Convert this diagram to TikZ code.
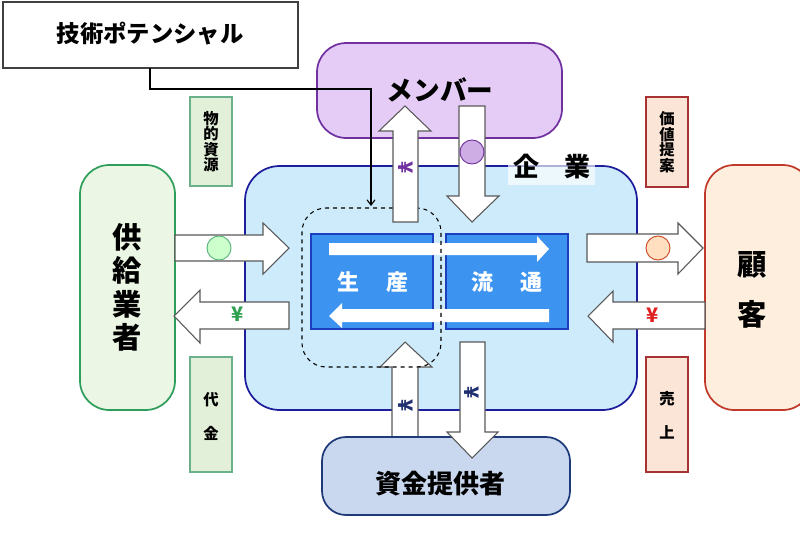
\documentclass[tikz,border=0pt]{standalone}
\usepackage{fontspec}
\setmainfont{Noto Sans CJK JP}
\usepackage{graphicx}
\usetikzlibrary{arrows.meta,fit}
\definecolor{purpfill}{HTML}{E5CCF6}
\definecolor{purpline}{HTML}{7030A0}
\definecolor{kfill}{HTML}{CDEBFA}
\definecolor{kline}{HTML}{1E1E9C}
\definecolor{sfill}{HTML}{EBF6E4}
\definecolor{sline}{HTML}{2E9E5B}
\definecolor{cfill}{HTML}{FDEEDD}
\definecolor{cline}{HTML}{C0392B}
\definecolor{ifill}{HTML}{CAD8EF}
\definecolor{iline}{HTML}{1F3A78}
\definecolor{rfill}{HTML}{3C94F0}
\definecolor{rline}{HTML}{1C3FC0}
\definecolor{gl}{HTML}{E2F0D9}
\definecolor{glline}{HTML}{6AB08A}
\definecolor{pl}{HTML}{FBE5D6}
\definecolor{plline}{HTML}{A83232}
\definecolor{arrline}{HTML}{595959}
\definecolor{yengreen}{HTML}{2EA04F}
\definecolor{yenred}{HTML}{E02020}
\definecolor{yennavy}{HTML}{1F2F6F}
\tikzset{
  bigbox/.style={draw, line width=1.3pt, rounded corners=22pt, inner sep=0pt},
  lblbox/.style={draw, line width=0.8pt, inner sep=0pt},
  blockarrow/.style={draw=arrline, fill=white, line width=0.8pt, line join=miter},
  innerarrow/.style={fill=white, draw=none},
  bigtxt/.style={font=\bfseries\fontsize{22}{25}\selectfont, align=center},
  smalltxt/.style={font=\bfseries\fontsize{11.5}{11.6}\selectfont, align=center},
  coin/.style={line width=0.7pt},
  yen/.style={font=\bfseries\fontsize{15}{15}\selectfont}
}
\newcommand{\ryen}{\rotatebox{-90}{¥}}
\begin{document}
\begin{tikzpicture}[x=0.75pt,y=-0.75pt]
\useasboundingbox (0,0) rectangle (800,533);
% company
\node[bigbox, draw=kline, fill=kfill, rounded corners=26pt, fit={(245,166) (637,410)}] (comp) {};
\fill[white, opacity=0.65] (508,150) rectangle (595,185);
\node[font=\bfseries\fontsize{19.5}{19.5}\selectfont] (complbl) at (552,167) {企\hspace{0.95em}業};
% supplier, customer
\node[bigbox, draw=sline, fill=sfill, fit={(80,165) (175,410)}] (sup) {};
\node[bigtxt] at (sup.center) {供\\給\\業\\者};
\node[bigbox, draw=cline, fill=cfill, fit={(705,165) (812,410)}] (cust) {};
\node[bigtxt, font=\bfseries\fontsize{22}{38}\selectfont] at (752,290) {顧\\客};
% member
\node[bigbox, draw=purpline, fill=purpfill, fit={(317,43) (562,138)}] (mem) {};
\node[font=\bfseries\fontsize{20}{20}\selectfont] at (440,90) {メンバー};
% inner rects
\node[draw=rline, fill=rfill, line width=1pt, inner sep=0pt, fit={(311,234) (433,329)}] (prod) {};
\node[draw=rline, fill=rfill, line width=1pt, inner sep=0pt, fit={(446,234) (568,329)}] (dist) {};
\node[text=white, font=\bfseries\fontsize{16.5}{16.5}\selectfont] at (373,282) {生\hspace{1.2em}産};
\node[text=white, font=\bfseries\fontsize{16.5}{16.5}\selectfont] at (507,282) {流\hspace{1.2em}通};
\fill[innerarrow] (329,243) -- (537,243) -- (537,236) -- (549,249) -- (537,262) -- (537,255) -- (329,255) -- cycle;
\fill[innerarrow] (549,309) -- (342,309) -- (342,303) -- (329,316) -- (342,328) -- (342,322) -- (549,322) -- cycle;
% bottom up arrow (investor -> company)
\draw[blockarrow] (392,438) -- (392,367) -- (380,367) -- (405,342) -- (432,367) -- (418,367) -- (418,438) -- cycle;
% dashed box
\node[draw, dashed, line width=0.8pt, rounded corners=18pt, inner sep=0pt, fit={(302,208) (441,367)}] (core) {};
% investor
\node[bigbox, draw=iline, fill=ifill, rounded corners=18pt, fit={(322,437) (570,515)}] (inv) {};
\node[font=\bfseries\fontsize{19.5}{19.5}\selectfont] at (440,484) {資金提供者};
% bottom down arrow
\draw[blockarrow] (460,342) -- (460,432) -- (447,432) -- (472,458) -- (498,432) -- (485,432) -- (485,342) -- cycle;
% top arrows
\draw[blockarrow] (393,222) -- (393,131) -- (379,131) -- (405,106) -- (431,131) -- (418,131) -- (418,222) -- cycle;
\draw[blockarrow] (459,106) -- (459,196) -- (447,196) -- (472,222) -- (499,196) -- (485,196) -- (485,106) -- cycle;
% horizontal arrows
\draw[blockarrow] (175,235) -- (263,235) -- (263,223) -- (289,248) -- (263,274) -- (263,261) -- (175,261) -- cycle;
\draw[blockarrow] (289,302) -- (200,302) -- (200,290) -- (174,316) -- (200,343) -- (200,329) -- (289,329) -- cycle;
\draw[blockarrow] (587,234) -- (678,234) -- (678,223) -- (703,248) -- (678,274) -- (678,262) -- (587,262) -- cycle;
\draw[blockarrow] (705,302) -- (613,302) -- (613,291) -- (588,316) -- (613,342) -- (613,329) -- (705,329) -- cycle;
% coins and yen
\draw[coin, draw=sline!80, fill=green!20] (219,248) circle[radius=9pt];
\draw[coin, draw=cline!80!orange, fill=orange!25] (658,248) circle[radius=9pt];
\draw[coin, draw=purpline, fill=purpfill!80!purpline] (472,152) circle[radius=9pt];
\node[yen, text=yengreen] at (238,314) {¥};
\node[yen, text=yenred] at (653,315) {¥};
\node[yen, text=purpline] at (406,168) {\ryen};
\node[yen, text=yennavy] at (406,406) {\ryen};
\node[yen, text=yennavy] at (472,393) {\ryen};
% label boxes
\node[lblbox, draw=glline, fill=gl, fit={(190,97) (232,186)}] (res) {};
\node[smalltxt] at (res.center) {物\\的\\資\\源};
\node[lblbox, draw=glline, fill=gl, fit={(190,357) (232,472)}] (pay) {};
\node[smalltxt, font=\bfseries\fontsize{11.5}{25.5}\selectfont] at (211,416) {代\\金};
\node[lblbox, draw=plline, fill=pl, fit={(646,97) (688,187)}] (val) {};
\node[smalltxt] at (val.center) {価\\値\\提\\案};
\node[lblbox, draw=plline, fill=pl, fit={(646,357) (688,472)}] (sales) {};
\node[smalltxt, font=\bfseries\fontsize{11.5}{25.5}\selectfont] at (667,415) {売\\上};
% tech potential
\node[draw=black!75, fill=white, line width=0.8pt, inner sep=0pt, fit={(3,2) (298,68)}] (tech) {};
\node[font=\bfseries\fontsize{17.5}{17.5}\selectfont] at (150,34) {技術ポテンシャル};
\coordinate (techend) at (371,206);
\draw[line width=0.8pt, -{Straight Barb[length=4pt,width=6pt]}] (150,68) |- (371,89) -- (techend);
\end{tikzpicture}
\end{document}
